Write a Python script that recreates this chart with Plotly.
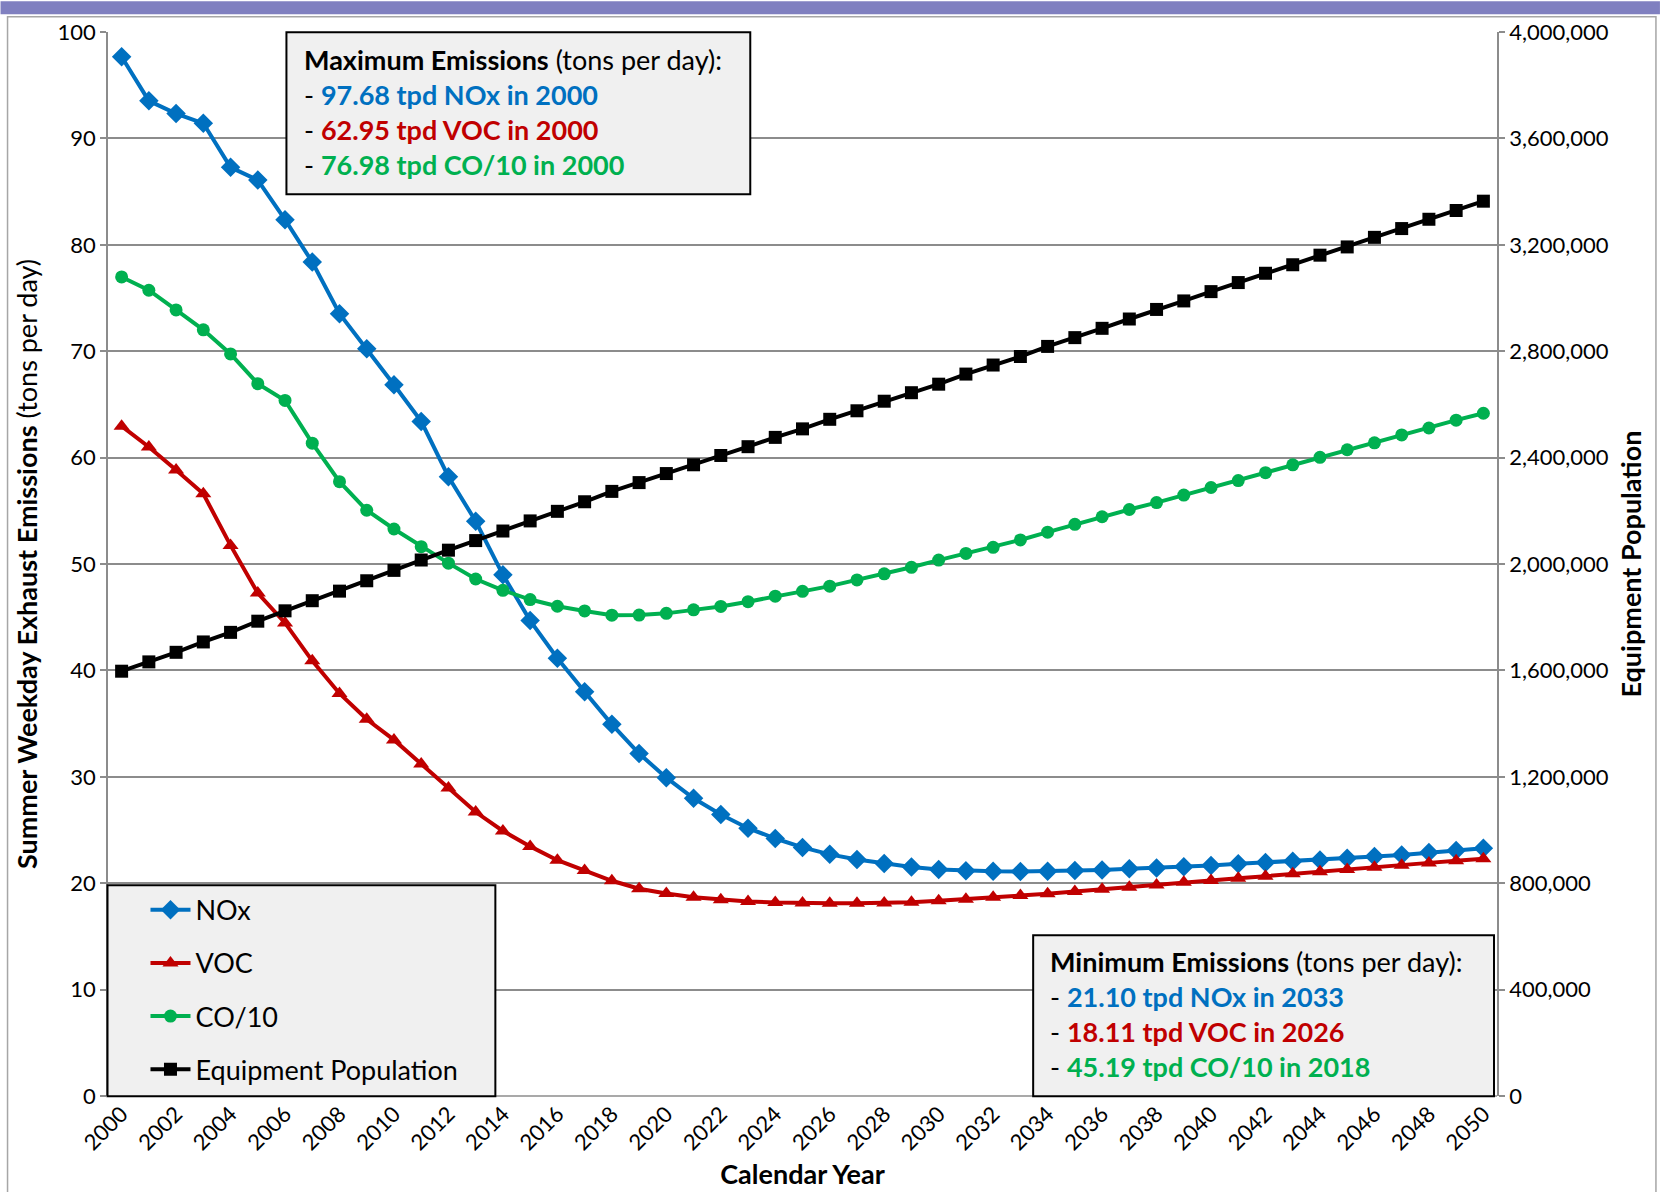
import plotly.graph_objects as go

years = list(range(2000, 2051))
nox = [97.68, 93.53, 92.33, 91.42, 87.28, 86.08, 82.36, 78.38, 73.53, 70.23, 66.84,
       63.40, 58.20, 54.02, 48.98, 44.68, 41.15, 38.00, 34.93, 32.18, 29.92,
       27.98, 26.46, 25.17, 24.20, 23.36, 22.71, 22.23, 21.84, 21.52, 21.29,
       21.16, 21.12, 21.10, 21.13, 21.19, 21.25, 21.35, 21.44, 21.54, 21.66,
       21.82, 21.94, 22.07, 22.19, 22.35, 22.51, 22.66, 22.88, 23.07, 23.29]
voc = [62.95, 61.00, 58.84, 56.60, 51.75, 47.27, 44.46, 40.90, 37.83, 35.41, 33.47,
       31.21, 28.95, 26.69, 24.91, 23.46, 22.16, 21.20, 20.23, 19.48, 19.03,
       18.68, 18.45, 18.29, 18.19, 18.13, 18.11, 18.12, 18.14, 18.22, 18.35,
       18.50, 18.68, 18.84, 19.00, 19.22, 19.44, 19.62, 19.84, 20.09, 20.25,
       20.47, 20.66, 20.88, 21.07, 21.29, 21.50, 21.69, 21.91, 22.10, 22.29]
co10 = [76.98, 75.73, 73.88, 72.01, 69.74, 66.95, 65.37, 61.36, 57.74, 55.05, 53.29,
        51.63, 50.08, 48.59, 47.53, 46.66, 46.03, 45.59, 45.19, 45.20, 45.36,
        45.69, 46.01, 46.46, 46.98, 47.43, 47.92, 48.50, 49.08, 49.69, 50.37,
        50.99, 51.57, 52.26, 52.99, 53.73, 54.44, 55.12, 55.77, 56.48, 57.19,
        57.84, 58.58, 59.32, 60.03, 60.74, 61.39, 62.13, 62.78, 63.52, 64.17]
population = [1597000, 1632000, 1668000, 1707000, 1743000, 1785000, 1824000, 1862000,
              1898000, 1937000, 1976000, 2015000, 2052000, 2088000, 2124000, 2162000,
              2198000, 2234000, 2273000, 2306000, 2340000, 2373000, 2408000, 2441000,
              2476000, 2508000, 2544000, 2576000, 2612000, 2644000, 2676000, 2714000,
              2748000, 2780000, 2818000, 2851000, 2886000, 2921000, 2957000, 2989000,
              3024000, 3058000, 3093000, 3125000, 3161000, 3192000, 3228000, 3261000,
              3296000, 3329000, 3364000]
x_ticks = list(range(2000, 2051, 2))
left_ticks = list(range(0, 101, 10))
right_ticks = list(range(0, 4000001, 400000))

max_lines = ["<b>Maximum Emissions</b> (tons per day):",
             "- <b><span style='color:#0070C0'>97.68 tpd NOx in 2000</span></b>",
             "- <b><span style='color:#C00000'>62.95 tpd VOC in 2000</span></b>",
             "- <b><span style='color:#00B050'>76.98 tpd CO/10 in 2000</span></b>"]
min_lines = ["<b>Minimum Emissions</b> (tons per day):",
             "- <b><span style='color:#0070C0'>21.10 tpd NOx in 2033</span></b>",
             "- <b><span style='color:#C00000'>18.11 tpd VOC in 2026</span></b>",
             "- <b><span style='color:#00B050'>45.19 tpd CO/10 in 2018</span></b>"]

FONT = "Lato"
W, H = 1660, 1192
L, R, T, B = 107.5, 1497.0, 31.8, 1095.7


def px(x):
    return (x - L) / (R - L)


def py(y):
    return (B - y) / (B - T)


fig = go.Figure()
series = [
    ("NOx", nox, "#0070C0", "diamond", 15, "y"),
    ("VOC", voc, "#C00000", "triangle-up", 14, "y"),
    ("CO/10", co10, "#00B050", "circle", 13, "y"),
    ("Equipment Population", population, "#000000", "square", 13, "y2"),
]
for name, vals, col, sym, ms, ax in series:
    fig.add_trace(go.Scatter(
        x=years, y=vals, name=name, yaxis=ax, mode="lines+markers",
        line=dict(color=col, width=4), legendgroup=name,
        marker=dict(symbol=sym, size=ms, color=col)))

shapes = []
# top purple bar and outer frame
shapes.append(dict(type="rect", xref="paper", yref="paper", x0=px(0), x1=px(W),
                   y0=py(1), y1=py(14), fillcolor="#8080C0", line=dict(width=0),
                   layer="below"))
shapes.append(dict(type="rect", xref="paper", yref="paper", x0=px(7), x1=px(1656),
                   y0=py(16.5), y1=py(1200), fillcolor="rgba(0,0,0,0)",
                   line=dict(color="#A6A6A6", width=1.5), layer="below"))
# annotation / legend boxes
for (x0, x1, y0, y1) in [(286, 750, 32, 194), (1033, 1494, 935, 1096), (107, 495, 885, 1096)]:
    shapes.append(dict(type="rect", xref="paper", yref="paper", x0=px(x0), x1=px(x1),
                       y0=py(y0), y1=py(y1), fillcolor="#F0F0F0",
                       line=dict(color="#000000", width=2), layer="above"))

annotations = []
for i, t in enumerate(max_lines):
    annotations.append(dict(xref="paper", yref="paper", x=px(302), y=py(59 + 35 * i),
                            xanchor="left", yanchor="middle", text=t, showarrow=False,
                            font=dict(family=FONT, size=27, color="#000000")))
for i, t in enumerate(min_lines):
    annotations.append(dict(xref="paper", yref="paper", x=px(1048), y=py(961 + 35 * i),
                            xanchor="left", yanchor="middle", text=t, showarrow=False,
                            font=dict(family=FONT, size=27, color="#000000")))

fig.update_layout(
    width=W, height=H,
    margin=dict(l=L, r=W - R, t=T, b=H - B, autoexpand=False),
    paper_bgcolor="white", plot_bgcolor="white",
    font=dict(family=FONT, size=22, color="#000000"),
    shapes=shapes, annotations=annotations,
    showlegend=True,
    legend=dict(x=px(145), y=py(885.5), xanchor="left", yanchor="top",
                bgcolor="rgba(0,0,0,0)", borderwidth=0,
                font=dict(family=FONT, size=27, color="#000000"),
                tracegroupgap=15, itemwidth=40),
    xaxis=dict(range=[1999.5, 2050.5], tickmode="array", tickvals=x_ticks,
               ticktext=[str(v) for v in x_ticks], tickangle=-45,
               showgrid=False, zeroline=False, showline=False,
               ticks="", tickfont=dict(family=FONT, size=22),
               title=dict(text="<b>Calendar Year</b>", standoff=10,
                          font=dict(family=FONT, size=27))),
    yaxis=dict(range=[0, 100], tickmode="array", tickvals=left_ticks,
               showgrid=True, gridcolor="#8C8C8C", gridwidth=1.5,
               zeroline=False, showline=True, linecolor="#8C8C8C", linewidth=1.5,
               ticks="outside", ticklen=6, tickcolor="#8C8C8C", tickwidth=1.5,
               tickfont=dict(family=FONT, size=22),
               title=dict(text="<b>Summer Weekday Exhaust Emissions</b> (tons per day)",
                          standoff=12, font=dict(family=FONT, size=27))),
    yaxis2=dict(range=[0, 4000000], overlaying="y", side="right", tickmode="array",
                tickvals=right_ticks, tickformat=",d", showgrid=False, zeroline=False,
                showline=True, linecolor="#8C8C8C", linewidth=1.5,
                ticks="outside", ticklen=6, tickcolor="#8C8C8C", tickwidth=1.5,
                tickfont=dict(family=FONT, size=22),
                title=dict(text="<b>Equipment Population</b>", standoff=14,
                           font=dict(family=FONT, size=27))),
)
# bottom axis line
fig.add_shape(type="line", xref="paper", yref="paper", x0=0, x1=1, y0=0, y1=0,
              line=dict(color="#8C8C8C", width=1.5), layer="below")

fig.write_html("out.html", config={"displayModeBar": False},
               post_script="document.body.style.margin='0';")
